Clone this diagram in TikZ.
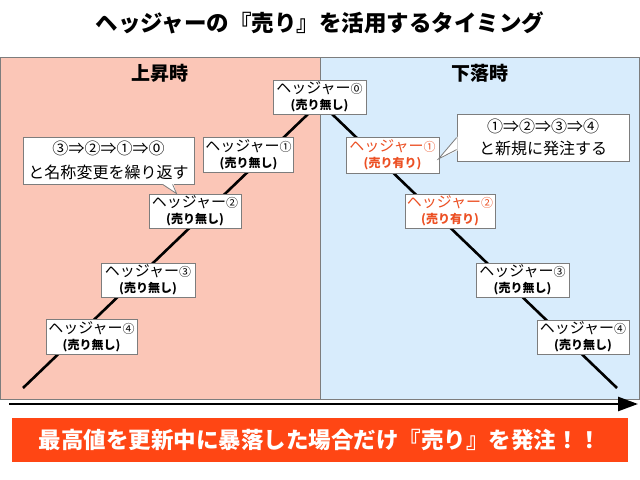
\documentclass[tikz,border=0pt]{standalone}
\usepackage{fontspec}
\setmainfont{Noto Sans CJK JP}
\usetikzlibrary{arrows.meta,calc}
\definecolor{pinkbg}{RGB}{251,198,183}
\definecolor{bluebg}{RGB}{216,236,252}
\definecolor{edgegray}{RGB}{125,125,125}
\definecolor{barred}{RGB}{255,70,20}
\definecolor{sellred}{RGB}{236,80,36}
\newcommand{\fs}[1]{\fontsize{#1bp}{#1bp}\selectfont}
\newcommand{\hedgelbl}[2]{{\fs{15}ヘッジャー{\fs{12}#1}}\\[4bp]{\fs{12}\bfseries #2}}
\tikzset{
  hbx/.style={draw=edgegray, line width=0.8bp, fill=white, minimum width=92bp, minimum height=35bp,
    inner sep=0pt, align=center},
  callbox/.style={draw=edgegray, line width=0.8bp, fill=white, inner sep=0pt, align=center},
  trend/.style={line width=2.6bp, black},
  panelstyle/.style={draw=edgegray, line width=0.8bp},
}
\begin{document}
\begin{tikzpicture}[x=1bp,y=-1bp]
\useasboundingbox (0,0) rectangle (640,480);
% title
\node[font=\fs{22.5}\bfseries] (title) at (320,23) {ヘッジャーの『売り』を活用するタイミング};
% panels
\path[panelstyle, fill=pinkbg] (0.5,57) rectangle (320,399);
\path[panelstyle, fill=bluebg] (320,57) rectangle (639.5,399);
\node[font=\fs{19}\bfseries] (up) at (160,73) {上昇時};
\node[font=\fs{19}\bfseries] (down) at (480,73) {下落時};
% trend lines
\coordinate (lstart) at (23,388);
\coordinate (peak) at (320,102.5);
\coordinate (rend) at (617,388);
\draw[trend] (lstart) -- (peak) -- (rend);
% boxes
\node[hbx, minimum width=93bp, minimum height=34bp] (h0) at (319.5,97) {\hedgelbl{⓪}{(売り無し)}};
\node[hbx, minimum width=90bp] (L1) at (248.5,154.5) {\hedgelbl{①}{(売り無し)}};
\node[hbx, minimum height=34bp] (L2) at (195,211) {\hedgelbl{②}{(売り無し)}};
\node[hbx, minimum width=94bp, minimum height=34bp] (L3) at (148,280) {\hedgelbl{③}{(売り無し)}};
\node[hbx, minimum width=91bp] (L4) at (91.5,336.5) {\hedgelbl{④}{(売り無し)}};
\node[hbx, minimum width=93bp, minimum height=36bp, text=sellred] (R1) at (392.5,155) {\hedgelbl{①}{(売り有り)}};
\node[hbx, minimum width=90bp, minimum height=34bp, text=sellred] (R2) at (450,211) {\hedgelbl{②}{(売り有り)}};
\node[hbx, minimum width=93bp, minimum height=34bp] (R3) at (522.5,280) {\hedgelbl{③}{(売り無し)}};
\node[hbx, minimum width=92bp, minimum height=34bp] (R4) at (583,337) {\hedgelbl{④}{(売り無し)}};
% callouts
\node[callbox, minimum width=171bp, minimum height=47bp, font=\fs{16}] (cl) at (108.5,160.5)
  {③⇒②⇒①⇒⓪\\[8bp]と名称変更を繰り返す};
\coordinate (cltip) at ($(L2.north west)+(28,0)$);
\fill[white] ($(cl.south west)+(139,-1)$) -- (cltip) -- ($(cl.south west)+(151,-1)$) -- cycle;
\draw[edgegray, line width=0.8bp] ($(cl.south west)+(140,0)$) -- (cltip) -- ($(cl.south west)+(150,0)$);
\node[callbox, minimum width=172bp, minimum height=47bp, font=\fs{16}] (cr) at (543,137.5)
  {①⇒②⇒③⇒④\\[6bp]と新規に発注する};
\coordinate (crtip) at ($(R1.east)+(-1,4)$);
\fill[white] ($(cr.north west)+(1,23)$) -- (crtip) -- ($(cr.north west)+(1,37)$) -- cycle;
\draw[edgegray, line width=0.8bp] ($(cr.north west)+(0,24)$) -- (crtip) -- ($(cr.north west)+(0,36)$);
% time axis
\coordinate (axstart) at (9,404);
\coordinate (axend) at (638,404);
\draw[line width=2.6bp, -{Triangle[length=20bp,width=14bp]}] (axstart) -- (axend);
% bottom bar
\node[fill=barred, minimum width=616bp, minimum height=44bp, inner sep=0pt, text=white,
  font=\fs{22.5}\bfseries] (bar) at (320,440) {最高値を更新中に暴落した場合だけ『売り』を発注！！};
\end{tikzpicture}
\end{document}
